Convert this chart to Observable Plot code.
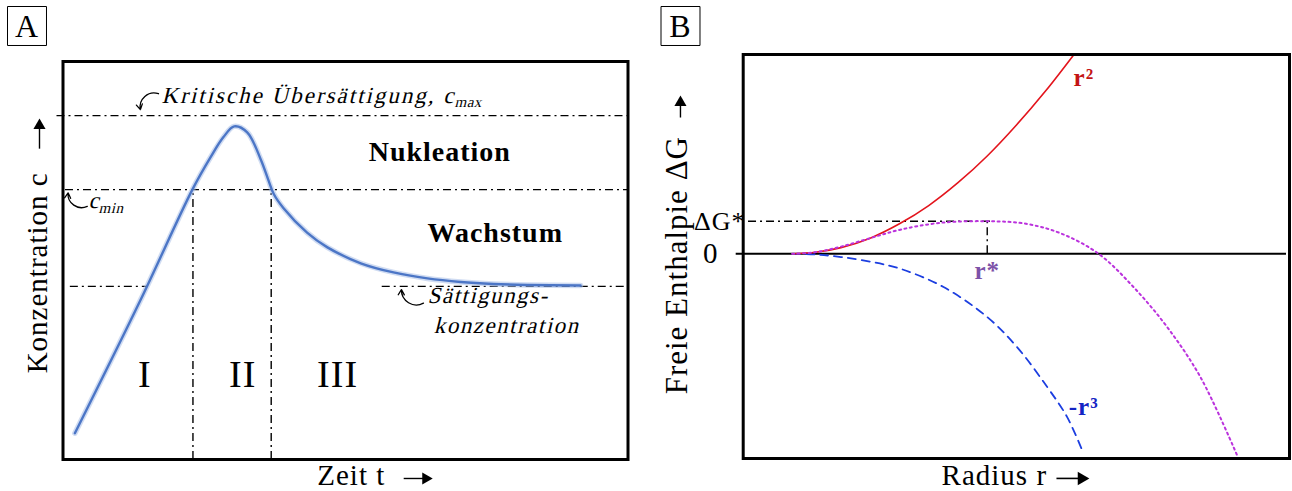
<!DOCTYPE html>
<html>
<head>
<meta charset="utf-8">
<script src="https://cdn.jsdelivr.net/npm/d3@7"></script>
<script src="https://cdn.jsdelivr.net/npm/@observablehq/plot@0.6"></script>
<style>
  body { margin: 0; background: #fff; }
  #chart { position: relative; width: 1292px; height: 491px; background: #fff; }
  #chart svg { position: absolute; top: 0; }
  #chart text { letter-spacing: 1px; }
</style>
</head>
<body>
<div id="chart"></div>
<script>
// ---------------- Panel A data (time t, concentration c; arbitrary units) ----------------
const timeA = [2.1, 13.7, 22.9, 26.1, 28.4, 30.3, 32.6, 35.0, 36.4, 37.3, 39.0, 43.2, 46.8, 52.7, 58.5, 64.5, 70.4, 76.2, 82.2, 91.6];
const concA = [6.6, 40.0, 67.8, 75.9, 81.0, 83.7, 82.2, 75.4, 70.0, 66.7, 63.2, 57.0, 53.3, 49.3, 47.0, 45.5, 44.6, 44.1, 43.85, 43.7];
const cMax = 86.4;      // kritische Übersättigung
const cMin = 67.8;      // c_min
const cSat = 43.5;      // Sättigungskonzentration
const phaseBounds = [23.0, 36.85];
const phaseLabels = ["I", "II", "III"];
const phaseLabelT = [14.5, 31.8, 48.6];
const satSegStart = [1.3, 56.5];
const satSegEnd = [15.1, 100];

// ---------------- Panel B data (radius r in units of r*, ΔG in units of ΔG*) ----------------
const rSurface = [0, 0.12, 0.25, 0.4, 0.55, 0.7, 0.85, 1.0, 1.15, 1.3, 1.443];
const gSurface = [0, 0.045, 0.19, 0.48, 0.92, 1.48, 2.18, 3.0, 3.95, 5.0, 6.1];
const rVolume = [0, 0.12, 0.25, 0.4, 0.555, 0.776, 1.0, 1.154, 1.308, 1.41, 1.487];
const gVolume = [0, -0.02, -0.1, -0.24, -0.46, -1.02, -1.94, -2.87, -4.09, -5.01, -6.03];
const rTotal = [0, 0.12, 0.25, 0.4, 0.555, 0.76, 1.0, 1.2, 1.38, 1.571, 1.75, 1.923, 2.094, 2.282];
const gTotal = [0, 0.05, 0.22, 0.48, 0.74, 0.95, 1.0, 0.92, 0.62, 0, -1.02, -2.25, -3.79, -6.19];
const rStar = 1.0, gStar = 1.0;

// ---------------- helpers ----------------
const serif = "'Liberation Serif', 'Times New Roman', serif";
const dashDot = "8,4,2,4";
const pairs = (xs, ys) => xs.map((x, i) => ({x, y: ys[i]}));
const lbl = (rows, o = {}) => Plot.text(rows, {x: "x", y: "y", text: "s", lineAnchor: "bottom", textAnchor: "start", fill: "black", ...o});
const guide = {stroke: "black", strokeWidth: 1.4, strokeDasharray: dashDot};
const hook = {x1: "x1", y1: "y1", x2: "x2", y2: "y2", headLength: 7, strokeWidth: 1.3, stroke: "black"};
// annotations rendered as slanted serif (italic look)
const slanted = new Set(["Kritische Übersättigung, c", "max", "c", "min", "Sättigungs-", "konzentration"]);

// ---------------- Panel A ----------------
const curveA = pairs(timeA, concA);
const satSegs = satSegStart.map((s, i) => ({x1: s, x2: satSegEnd[i], y: cSat}));
const phases = phaseLabels.map((s, i) => ({x: phaseLabelT[i], y: 18.2, s}));

const plotA = Plot.plot({
  width: 650, height: 491,
  marginLeft: 62.5, marginRight: 22.5, marginTop: 61, marginBottom: 32,
  x: {domain: [0, 100], axis: null},
  y: {domain: [0, 100], axis: null},
  style: {fontFamily: serif, background: "white", overflow: "visible"},
  marks: [
    Plot.ruleY([cMax], {...guide, insetLeft: -6}),
    Plot.ruleY([cMin], {...guide, insetLeft: 2.5}),
    Plot.ruleY(satSegs, {x1: "x1", x2: "x2", y: "y", ...guide}),
    Plot.ruleX(phaseBounds, {y1: 0, y2: cMin, ...guide}),
    Plot.line(curveA, {x: "x", y: "y", curve: "catmull-rom", stroke: "#a9bfe8", strokeWidth: 5.5, strokeOpacity: 0.55}),
    Plot.line(curveA, {x: "x", y: "y", curve: "catmull-rom", stroke: "#4c76c6", strokeWidth: 2.4}),
    Plot.frame({stroke: "black", strokeWidth: 3}),
    // region labels
    lbl([{x: 54.1, y: 74.9, s: "Nukleation"}, {x: 64.5, y: 54.6, s: "Wachstum"}], {fontSize: 28, fontWeight: "bold"}),
    lbl(phases, {fontSize: 38, textAnchor: "middle"}),
    // annotations
    lbl([{x: 69.45, y: 89.45, s: "Kritische Übersättigung, c"}], {fontSize: 23, textAnchor: "end"}),
    lbl([{x: 69.3, y: 88.5, s: "max"}], {fontSize: 15}),
    lbl([{x: 4.5, y: 63.3, s: "c"}], {fontSize: 23}),
    lbl([{x: 6.3, y: 62.0, s: "min"}], {fontSize: 15}),
    lbl([{x: 64.5, y: 39.2, s: "Sättigungs-"}, {x: 65.6, y: 31.7, s: "konzentration"}], {fontSize: 23}),
    Plot.arrow([{x1: 16.9, y1: 91.9, x2: 13.7, y2: 87.9}], {...hook, bend: -60}),
    Plot.arrow([{x1: 4.3, y1: 63.6, x2: 0.9, y2: 67.0}], {...hook, bend: 60}),
    Plot.arrow([{x1: 63.8, y1: 39.3, x2: 59.9, y2: 42.7}], {...hook, bend: 60}),
    // axis labels
    lbl([{x: 45.0, y: -6.5, s: "Zeit t"}], {fontSize: 29}),
    Plot.link([{x1: 60.3, x2: 64.2, y: -4.77}], {x1: "x1", x2: "x2", y1: "y", y2: "y", stroke: "black", strokeWidth: 1.4}),
    Plot.dot([{x: 64.2, y: -4.77}], {x: "x", y: "y", symbol: "triangle", r: 4.5, fill: "black", rotate: 90}),
    lbl([{x: -2.83, y: 46.9, s: "Konzentration c"}], {fontSize: 29, textAnchor: "middle", rotate: -90}),
    Plot.link([{x: -4.16, y1: 78.1, y2: 83.9}], {x1: "x", x2: "x", y1: "y1", y2: "y2", stroke: "black", strokeWidth: 1.4}),
    Plot.dot([{x: -4.16, y: 83.9}], {x: "x", y: "y", symbol: "triangle", r: 4.5, fill: "black"}),
    // panel letter
    Plot.dot([0], {frameAnchor: "top-left", dx: -36, dy: -35.5, symbol: "square", r: 22, fill: "white", stroke: "black", strokeWidth: 1}),
    Plot.text(["A"], {frameAnchor: "top-left", dx: -36, dy: -35, textAnchor: "middle", lineAnchor: "middle", fontSize: 32})
  ]
});

// ---------------- Panel B ----------------
const surf = pairs(rSurface, gSurface);
const vol = pairs(rVolume, gVolume);
const tot = pairs(rTotal, gTotal);

const plotB = Plot.plot({
  width: 642, height: 491,
  marginLeft: 92.7, marginRight: 3, marginTop: 54, marginBottom: 33,
  x: {domain: [-0.2513, 2.55], axis: null},
  y: {domain: [-6.279, 6.113], axis: null},
  style: {fontFamily: serif, background: "white", overflow: "visible"},
  marks: [
    Plot.ruleY([gStar], {x1: -0.224, x2: rStar + 0.017, ...guide}),
    Plot.ruleX([rStar], {y1: 0, y2: gStar, ...guide}),
    Plot.ruleY([0], {insetLeft: -7, insetRight: 3, stroke: "black", strokeWidth: 2}),
    Plot.line(vol, {x: "x", y: "y", curve: "catmull-rom", stroke: "#1c3ee0", strokeWidth: 1.8, strokeDasharray: "8,6"}),
    Plot.line(surf, {x: "x", y: "y", curve: "catmull-rom", stroke: "#e3141c", strokeWidth: 1.6}),
    Plot.line(tot, {x: "x", y: "y", curve: "catmull-rom", stroke: "#bb33dd", strokeWidth: 2, strokeDasharray: "2,3.5"}),
    Plot.frame({stroke: "black", strokeWidth: 3}),
    // tick-like labels
    lbl([{x: -0.378, y: 0, s: "0"}], {fontSize: 29, textAnchor: "end", lineAnchor: "middle"}),
    lbl([{x: -0.239, y: gStar, s: "ΔG*"}], {fontSize: 26, textAnchor: "end", lineAnchor: "middle"}),
    // curve labels
    lbl([{x: rStar, y: -0.758, s: "r*"}], {fontSize: 25, fontWeight: "bold", fill: "#7d52a8", textAnchor: "middle"}),
    lbl([{x: 1.443, y: 5.16, s: "r²"}], {fontSize: 25, fontWeight: "bold", fill: "#c41414"}),
    lbl([{x: 1.418, y: -4.95, s: "-r³"}], {fontSize: 25, fontWeight: "bold", fill: "#1424c4"}),
    // axis labels
    lbl([{x: 0.766, y: -7.107, s: "Radius r"}], {fontSize: 29}),
    Plot.link([{x1: 1.355, x2: 1.484, y: -6.89}], {x1: "x1", x2: "x2", y1: "y", y2: "y", stroke: "black", strokeWidth: 1.6}),
    Plot.dot([{x: 1.484, y: -6.89}], {x: "x", y: "y", symbol: "triangle", r: 5, fill: "black", rotate: 90}),
    lbl([{x: -0.537, y: -0.35, s: "Freie Enthalpie ΔG"}], {fontSize: 31, textAnchor: "middle", rotate: -90}),
    Plot.link([{x: -0.573, y1: 4.18, y2: 4.64}], {x1: "x", x2: "x", y1: "y1", y2: "y2", stroke: "black", strokeWidth: 1.4}),
    Plot.dot([{x: -0.573, y: 4.64}], {x: "x", y: "y", symbol: "triangle", r: 4.5, fill: "black"}),
    // panel letter
    Plot.dot([0], {frameAnchor: "top-left", dx: -62.7, dy: -28.5, symbol: "square", r: 22, fill: "white", stroke: "black", strokeWidth: 1}),
    Plot.text(["B"], {frameAnchor: "top-left", dx: -62.7, dy: -28, textAnchor: "middle", lineAnchor: "middle", fontSize: 32})
  ]
});

// slant the annotation texts of panel A (serif "italic" look)
plotA.querySelectorAll("text").forEach(t => {
  if (slanted.has(t.textContent)) {
    const tr = t.getAttribute("transform") || "";
    t.setAttribute("transform", tr + " skewX(-14)");
    t.style.letterSpacing = t.textContent.startsWith("Kritische") ? "2px" : (t.textContent.length <= 3 ? "0.5px" : "1.5px");
  }
});

const chart = document.getElementById("chart");
plotA.style.left = "0px";
plotB.style.left = "650px";
chart.append(plotA, plotB);
</script>
</body>
</html>
